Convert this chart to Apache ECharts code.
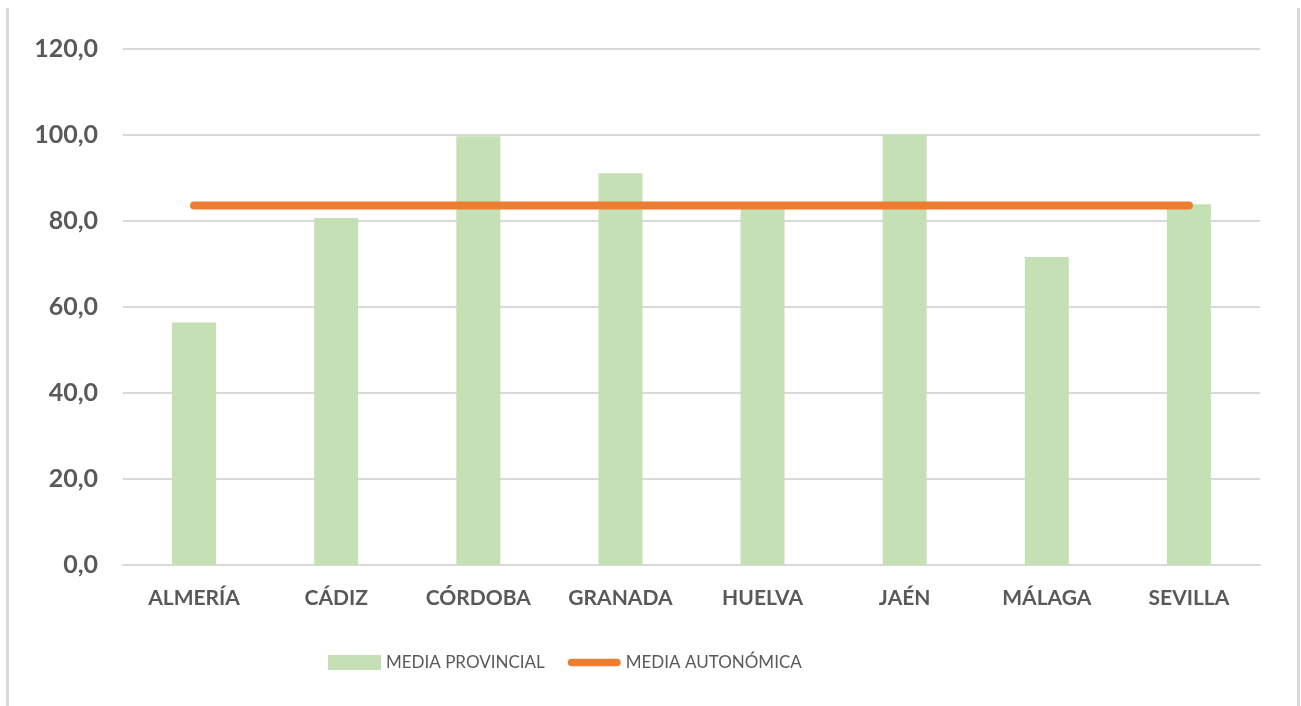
<!DOCTYPE html>
<html>
<head>
<meta charset="utf-8">
<script src="https://cdn.jsdelivr.net/npm/echarts@6/dist/echarts.min.js"></script>
<style>
html,body{margin:0;padding:0;background:#fff;}
#chart{width:1301px;height:706px;}
</style>
</head>
<body>
<div id="chart"></div>
<script>
const categories = ['ALMERÍA','CÁDIZ','CÓRDOBA','GRANADA','HUELVA','JAÉN','MÁLAGA','SEVILLA'];
const mediaProvincial = [56.4, 80.7, 99.7, 91.1, 83.3, 100.0, 71.6, 83.9];
const mediaAutonomica = [83.6, 83.6, 83.6, 83.6, 83.6, 83.6, 83.6, 83.6];
const seriesNames = ['MEDIA PROVINCIAL','MEDIA AUTONÓMICA'];

const chart = echarts.init(document.getElementById('chart'), null, {renderer:'canvas'});
const FONT = 'Lato';
chart.setOption({
  animation:false,
  backgroundColor:'#ffffff',
  graphic:[
    {type:'rect', shape:{x:6, y:8, width:3, height:698}, style:{fill:'#d9d9d9'}, silent:true},
    {type:'rect', shape:{x:1297, y:8, width:3, height:698}, style:{fill:'#d9d9d9'}, silent:true}
  ],
  grid:{left:123, right:41, top:49, bottom:141, containLabel:false},
  legend:{
    left:323, top:649,
    itemWidth:53, itemHeight:15, itemGap:23,
    symbolKeepAspect:true,
    textStyle:{color:'#595959', fontFamily:FONT, fontSize:17},
    data:[
      {name:seriesNames[0], icon:'rect'},
      {name:seriesNames[1], icon:'path://M4,0 H52 A4,4 0 0 1 52,8 H4 A4,4 0 0 1 4,0 Z'}
    ]
  },
  xAxis:{
    type:'category', data:categories, boundaryGap:true,
    axisLine:{lineStyle:{color:'#d9d9d9', width:2}},
    axisTick:{show:false},
    axisLabel:{color:'#595959', fontFamily:FONT, fontWeight:'bold', fontSize:21, margin:23, interval:0}
  },
  yAxis:{
    type:'value', min:0, max:120, interval:20,
    axisLine:{show:false}, axisTick:{show:false},
    splitLine:{lineStyle:{color:'#d9d9d9', width:2}},
    axisLabel:{color:'#595959', fontFamily:FONT, fontWeight:'bold', fontSize:25, margin:25,
      formatter:v=>v.toFixed(1).replace('.',',')}
  },
  series:[
    {name:seriesNames[0], type:'bar', data:mediaProvincial, barWidth:44,
      itemStyle:{color:'#c5e0b4'}, z:2},
    {name:seriesNames[1], type:'line', data:mediaAutonomica, symbol:'none', showSymbol:false,
      lineStyle:{color:'#ed7d31', width:8, cap:'round'}, itemStyle:{color:'#ed7d31'}, z:3}
  ]
});
</script>
</body>
</html>
